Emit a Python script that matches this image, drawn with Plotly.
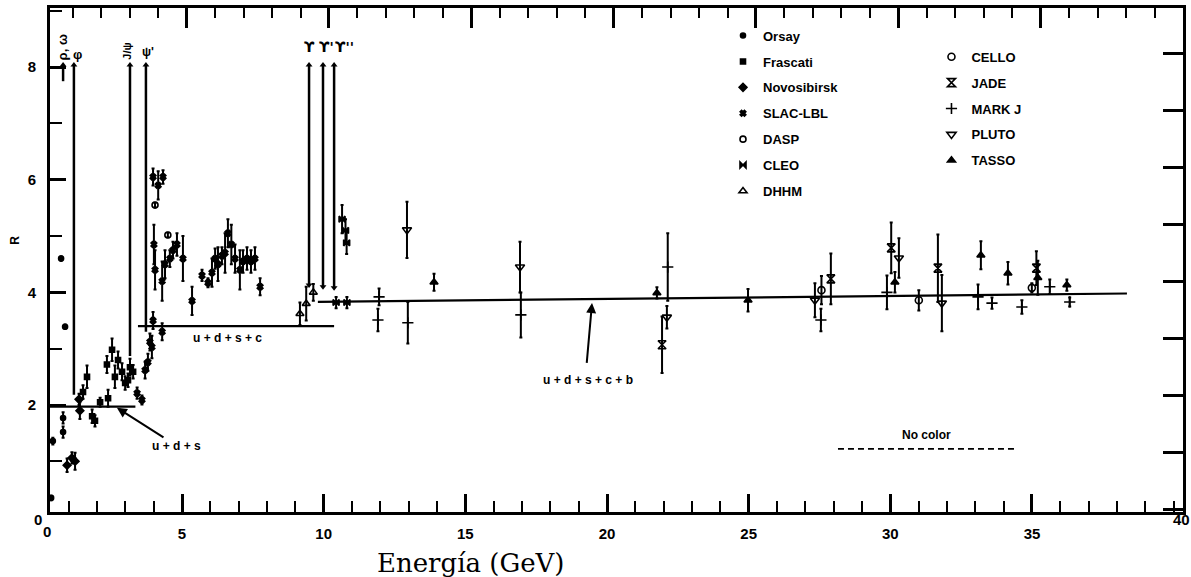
import plotly.graph_objects as go

# ---------------- data (E in GeV, R) ----------------
orsay_E = [0.24, 0.30, 0.59, 0.73, 0.66, 0.66]
orsay_R = [0.35, 1.36, 4.60, 3.39, 1.77, 1.52]
orsay_err = [0.04, 0.06, 0.04, 0.04, 0.10, 0.10]

frascati_E = [1.36, 1.50, 1.68, 1.78, 1.96, 2.20, 2.24, 2.38, 2.48, 2.59, 2.73, 2.84, 2.94, 3.01, 3.12]
frascati_R = [2.23, 2.50, 1.80, 1.72, 2.05, 2.72, 2.12, 2.98, 2.50, 2.80, 2.59, 2.39, 2.44, 2.67, 2.59]
frascati_err = [0.12, 0.20, 0.12, 0.10, 0.08, 0.15, 0.15, 0.20, 0.20, 0.15, 0.15, 0.12, 0.12, 0.15, 0.12]

novo_E = [0.80, 0.97, 1.08, 1.25, 1.22]
novo_R = [0.93, 1.06, 1.00, 1.90, 2.10]
novo_err = [0.12, 0.10, 0.15, 0.15, 0.10]

slac_E = [3.26, 3.43, 3.54, 3.64, 3.71, 3.78, 3.82, 4.00, 4.17, 3.85, 3.89, 4.14, 4.24, 4.41, 4.52,
          4.66, 4.87, 5.19, 5.54, 5.75, 5.89, 6.00, 6.10, 6.24, 6.35, 6.45, 6.57, 6.70, 6.87, 6.98,
          7.12, 7.26, 7.40, 7.58, 4.14, 3.82]
slac_R = [2.21, 2.09, 2.62, 2.76, 3.12, 3.03, 6.05, 5.90, 6.05, 4.85, 4.40, 4.20, 4.50, 4.60, 4.75,
          4.85, 4.60, 3.85, 4.30, 4.17, 4.35, 4.60, 4.50, 4.65, 4.70, 5.05, 4.85, 4.60, 4.40, 4.55,
          4.60, 4.55, 4.60, 4.10, 3.30, 3.50]
slac_err = [0.10, 0.08, 0.15, 0.15, 0.15, 0.20, 0.15, 0.25, 0.12, 0.35, 0.35, 0.35, 0.25, 0.15, 0.15,
            0.20, 0.40, 0.25, 0.10, 0.08, 0.25, 0.18, 0.30, 0.15, 0.35, 0.25, 0.35, 0.25, 0.35, 0.20,
            0.20, 0.20, 0.20, 0.15, 0.15, 0.15]

dasp_E = [3.89, 4.34]
dasp_R = [5.55, 5.02]
dasp_err = [0.04, 0.04]

cleo_E = [10.25, 10.63, 10.46, 10.58, 10.62]
cleo_R = [3.82, 3.82, 5.30, 5.10, 4.88]
cleo_err = [0.10, 0.10, 0.25, 0.20, 0.20]

dhhm_E = [8.98, 9.20, 9.45]
dhhm_R = [3.62, 3.80, 4.00]
dhhm_err = [0.20, 0.30, 0.15]

cello_E = [27.30, 30.72, 34.69]
cello_R = [4.04, 3.86, 4.08]
cello_err = [0.25, 0.18, 0.08]

jade_E = [21.70, 27.63, 29.75, 31.39, 34.85]
jade_R = [3.07, 4.24, 4.79, 4.43, 4.43]
jade_err = [0.50, 0.45, 0.45, 0.60, 0.30]

markj_E = [11.72, 11.76, 12.77, 16.74, 21.90, 27.28, 29.60, 32.80, 33.29, 34.34, 35.32, 36.02]
markj_R = [3.51, 3.92, 3.46, 3.60, 4.45, 3.51, 4.00, 3.92, 3.81, 3.74, 4.10, 3.83]
markj_err = [0.20, 0.15, 0.37, 0.40, 0.60, 0.20, 0.30, 0.22, 0.10, 0.12, 0.13, 0.08]

pluto_E = [12.74, 16.71, 21.87, 27.07, 30.02, 31.53]
pluto_R = [5.11, 4.45, 3.56, 3.86, 4.61, 3.81]
pluto_err = [0.50, 0.45, 0.20, 0.30, 0.35, 0.50]

tasso_E = [13.69, 21.52, 24.72, 29.88, 32.90, 33.85, 34.90, 35.92]
tasso_R = [4.18, 3.99, 3.86, 4.18, 4.66, 4.34, 4.26, 4.13]
tasso_err = [0.15, 0.10, 0.20, 0.18, 0.25, 0.20, 0.30, 0.10]

# resonance spikes (off scale)
spike_names = ["rho_omega", "phi", "J/psi", "psi'", "Y", "Y'", "Y''"]
spike_E = [0.66, 1.04, 3.01, 3.57, 9.30, 9.79, 10.18]
spike_low = [7.75, 2.18, 2.87, 3.30, 4.13, 4.10, 4.08]
spike_high = [8.04, 8.04, 8.04, 8.04, 8.04, 8.04, 8.04]

# quark-parton model levels
level_names = ["u + d + s", "u + d + s + c", "u + d + s + c + b"]
level_E0 = [0.2, 3.29, 9.61]
level_E1 = [3.20, 10.18, 38.03]
level_R0 = [1.97, 3.40, 3.83]
level_R1 = [1.97, 3.40, 3.98]
nocolor_E = [27.88, 34.17]
nocolor_R = [1.22, 1.22]

x_ticks = [5, 10, 15, 20, 25, 30, 35]
y_ticks = [2, 4, 6, 8]

# ---------------- figure ----------------
fig = go.Figure()
BLACK = "black"


def add_exp(name, E, R, err, symbol, size, legend):
    fig.add_trace(go.Scatter(
        x=E, y=R, mode="markers", name=name, legend=legend, legendgroup=name,
        marker=dict(symbol=symbol, size=size, color=BLACK, line=dict(color=BLACK, width=1.6)),
        error_y=dict(type="data", array=err, visible=True, color=BLACK, thickness=2, width=1.5),
        cliponaxis=False))


add_exp("Orsay", orsay_E, orsay_R, orsay_err, "circle", 5, "legend")
add_exp("Frascati", frascati_E, frascati_R, frascati_err, "square", 5, "legend")
add_exp("Novosibirsk", novo_E, novo_R, novo_err, "diamond", 6, "legend")
add_exp("SLAC-LBL", slac_E, slac_R, slac_err, "x", 5, "legend")
add_exp("DASP", dasp_E, dasp_R, dasp_err, "circle-open", 6, "legend")
add_exp("CLEO", cleo_E, cleo_R, cleo_err, "bowtie", 6, "legend")
add_exp("DHHM", dhhm_E, dhhm_R, dhhm_err, "triangle-up-open", 7, "legend")
add_exp("CELLO", cello_E, cello_R, cello_err, "circle-open", 7, "legend2")
add_exp("JADE", jade_E, jade_R, jade_err, "hourglass-open", 8, "legend2")
add_exp("MARK J", markj_E, markj_R, markj_err, "cross-thin", 8, "legend2")
add_exp("PLUTO", pluto_E, pluto_R, pluto_err, "triangle-down-open", 8, "legend2")
add_exp("TASSO", tasso_E, tasso_R, tasso_err, "triangle-up", 7, "legend2")

# spikes
sx, sy = [], []
for e, lo, hi in zip(spike_E, spike_low, spike_high):
    sx += [e, e, None]
    sy += [lo, hi, None]
fig.add_trace(go.Scatter(x=sx, y=sy, mode="lines", line=dict(color=BLACK, width=2.5),
                         showlegend=False, hoverinfo="skip", cliponaxis=False))
fig.add_trace(go.Scatter(x=spike_E, y=spike_high, mode="markers", showlegend=False,
                         marker=dict(symbol="triangle-up", size=6, color=BLACK), cliponaxis=False))
fig.add_trace(go.Scatter(x=spike_E[4:], y=spike_low[4:], mode="markers", showlegend=False,
                         marker=dict(symbol="triangle-down", size=6, color=BLACK), cliponaxis=False))

# levels
for e0, e1, r0, r1 in zip(level_E0, level_E1, level_R0, level_R1):
    fig.add_trace(go.Scatter(x=[e0, e1], y=[r0, r1], mode="lines", line=dict(color=BLACK, width=2.2),
                             showlegend=False, hoverinfo="skip", cliponaxis=False))
fig.add_trace(go.Scatter(x=nocolor_E, y=nocolor_R, mode="lines",
                         line=dict(color=BLACK, width=1.8, dash="6px,4px"),
                         showlegend=False, hoverinfo="skip"))

# dummy traces so the secondary (tick-only) axes are drawn
fig.add_trace(go.Scatter(x=[None], y=[None], xaxis="x2", yaxis="y", showlegend=False))
fig.add_trace(go.Scatter(x=[None], y=[None], xaxis="x", yaxis="y2", showlegend=False))

SANS = "Liberation Sans"
tickfont = dict(family=SANS, size=15, color=BLACK, weight="bold")

fig.update_layout(
    width=1191, height=577, autosize=False,
    margin=dict(l=50, r=8, t=8, b=65, pad=0),
    paper_bgcolor="white", plot_bgcolor="white",
    showlegend=True,
    xaxis=dict(range=[0.2, 40], side="top", showline=True, linewidth=3, linecolor=BLACK,
               ticks="inside", tickvals=[0, 5, 10, 15, 20, 25, 30, 35, 40], ticklen=20, tickwidth=2.5,
               tickcolor=BLACK, showticklabels=False, showgrid=False, zeroline=False,
               minor=dict(dtick=1, tick0=0, ticks="inside", ticklen=10, tickwidth=2, tickcolor=BLACK,
                          showgrid=False)),
    xaxis2=dict(range=[0.34, 40.33], overlaying="x", side="bottom", anchor="y", showline=True,
                linewidth=3, linecolor=BLACK, ticks="inside", tickvals=x_ticks,
                ticktext=[str(v) for v in x_ticks], ticklen=18, tickwidth=2.5, tickcolor=BLACK,
                tickfont=tickfont, ticklabelstandoff=6, showgrid=False, zeroline=False,
                minor=dict(dtick=1, tick0=0, ticks="inside", ticklen=11, tickwidth=2,
                           tickcolor=BLACK, showgrid=False)),
    yaxis=dict(range=[0.1, 9.05], showline=True, linewidth=3, linecolor=BLACK, ticks="inside",
               tickvals=y_ticks, ticktext=[str(v) for v in y_ticks], ticklen=16, tickwidth=2.5,
               tickcolor=BLACK, tickfont=tickfont, ticklabelstandoff=8, showgrid=False,
               zeroline=False,
               minor=dict(dtick=1, tick0=0, ticks="inside", ticklen=12, tickwidth=2,
                          tickcolor=BLACK, showgrid=False)),
    yaxis2=dict(range=[-0.05, 8.79], overlaying="y", side="right", anchor="x", showline=True,
                linewidth=3, linecolor=BLACK, ticks="inside", dtick=1, tick0=0, ticklen=20,
                tickwidth=2.5, tickcolor=BLACK, showticklabels=False, showgrid=False,
                zeroline=False),
    legend=dict(x=0.594, y=0.975, xanchor="left", yanchor="top", bgcolor="rgba(0,0,0,0)",
                font=dict(family=SANS, size=13, color=BLACK, weight="bold"),
                tracegroupgap=6, itemwidth=30),
    legend2=dict(x=0.778, y=0.933, xanchor="left", yanchor="top", bgcolor="rgba(0,0,0,0)",
                 font=dict(family=SANS, size=13, color=BLACK, weight="bold"),
                 tracegroupgap=6, itemwidth=30),
)

ann_font = dict(family=SANS, size=12, color=BLACK, weight="bold")
annotations = [
    # level labels
    dict(x=2.55, y=1.95, text="u + d + s", showarrow=True, ax=60, ay=38, axref="pixel",
         ayref="pixel", font=ann_font, arrowhead=2, arrowsize=1, arrowwidth=2, arrowcolor=BLACK,
         standoff=0, startstandoff=0),
    dict(x=6.45, y=3.19, text="u + d + s + c", showarrow=False, font=ann_font),
    dict(x=19.1, y=2.44, text="u + d + s + c + b", showarrow=False, font=ann_font),
    dict(x=31.0, y=1.47, text="No color", showarrow=False, font=ann_font),
    # resonance labels
    dict(x=0.62, y=8.35, text="ρ, ω", textangle=-90, showarrow=False,
         font=dict(family=SANS, size=13, color=BLACK, weight="bold")),
    dict(x=1.18, y=8.23, text="φ", showarrow=False,
         font=dict(family=SANS, size=13, color=BLACK, weight="bold")),
    dict(x=2.90, y=8.29, text="J/ψ", textangle=-90, showarrow=False,
         font=dict(family=SANS, size=11, color=BLACK, weight="bold")),
    dict(x=3.64, y=8.27, text="ψ'", showarrow=False,
         font=dict(family=SANS, size=12, color=BLACK, weight="bold")),
    dict(x=9.33, y=8.36, text="ϒ", showarrow=False,
         font=dict(family="DejaVu Sans", size=14, color=BLACK, weight="bold")),
    dict(x=9.90, y=8.36, text="ϒ'", showarrow=False,
         font=dict(family="DejaVu Sans", size=14, color=BLACK, weight="bold")),
    dict(x=10.55, y=8.36, text="ϒ''", showarrow=False,
         font=dict(family="DejaVu Sans", size=14, color=BLACK, weight="bold")),
    # axis decorations
    dict(xref="paper", yref="paper", x=0.3707, y=-0.101, text="Energía (GeV)", showarrow=False,
         font=dict(family="DejaVu Serif", size=26, color=BLACK), xanchor="center",
         yanchor="middle"),
    dict(xref="paper", yref="paper", x=-0.031, y=0.54, text="R", textangle=-90, showarrow=False,
         font=dict(family=SANS, size=12, color=BLACK, weight="bold"), xanchor="center",
         yanchor="middle"),
    dict(xref="paper", yref="paper", x=-0.011, y=-0.014, text="0", showarrow=False,
         font=tickfont, xanchor="center", yanchor="middle"),
    dict(xref="paper", yref="paper", x=-0.003, y=-0.038, text="0", showarrow=False,
         font=tickfont, xanchor="center", yanchor="middle"),
    dict(xref="paper", yref="paper", x=0.9985, y=-0.014, text="40", showarrow=False,
         font=tickfont, xanchor="center", yanchor="middle"),
]
# arrow for u+d+s+c+b label
annotations.append(dict(x=19.24, y=3.81, ax=19.05, ay=2.72, axref="x", ayref="y", text="",
                        showarrow=True, arrowhead=2, arrowwidth=2, arrowcolor=BLACK))
fig.update_layout(annotations=annotations)

fig.write_html("out.html", config={"displayModeBar": False},
               post_script="document.body.style.margin='0';document.body.style.padding='0';"
                           "document.body.style.overflow='hidden';")
